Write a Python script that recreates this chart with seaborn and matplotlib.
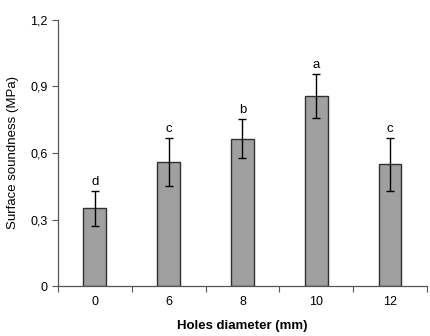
import matplotlib
matplotlib.use("Agg")
import matplotlib.pyplot as plt
import seaborn as sns
import numpy as np
import pandas as pd
from matplotlib.ticker import FixedLocator

categories = ["0", "6", "8", "10", "12"]
means = [0.35, 0.56, 0.665, 0.856, 0.549]
errors = [0.08, 0.107, 0.088, 0.10, 0.12]
letters = ["d", "c", "b", "a", "c"]
yticks = [0, 0.3, 0.6, 0.9, 1.2]
ytick_labels = ["0", "0,3", "0,6", "0,9", "1,2"]

sns.set_style("white")
plt.rcParams['font.family'] = ['Liberation Sans', 'DejaVu Sans']
plt.rcParams['text.color'] = 'black'
plt.rcParams['axes.labelcolor'] = 'black'
plt.rcParams['xtick.labelcolor'] = 'black'
plt.rcParams['ytick.labelcolor'] = 'black'

df = pd.DataFrame({"diam": categories, "val": means})

fig = plt.figure(figsize=(4.31, 3.36), dpi=100)
ax = fig.add_axes([0.1346, 0.1488, 0.856, 0.7917])
sns.barplot(data=df, x="diam", y="val", order=categories, color="#a0a0a0",
            width=0.31, edgecolor="#303030", linewidth=1.0, saturation=1,
            errorbar=None, ax=ax)
xs = np.arange(len(categories))
ax.errorbar(xs, means, yerr=errors, fmt="none", ecolor="black",
            elinewidth=1.0, capsize=3, capthick=1.0)
for x, m, e, l in zip(xs, means, errors, letters):
    ax.text(x, m + e + 0.012, l, ha="center", va="bottom", fontsize=9.5, color="black")

ax.set_xlim(-0.5, len(categories) - 0.5)
ax.set_ylim(0, 1.2)
ax.set_yticks(yticks)
ax.set_yticklabels(ytick_labels)
ax.tick_params(axis="x", which="major", length=0, labelsize=9, pad=7, labelcolor="black")
ax.xaxis.set_minor_locator(FixedLocator(np.arange(-0.5, len(categories), 1.0)))
ax.tick_params(axis="x", which="minor", length=4, width=0.8, color="#555555", direction="out", bottom=True)
ax.tick_params(axis="y", length=4, width=0.8, color="#555555", direction="out", labelsize=9, left=True, labelcolor="black")
for s in ["top", "right"]:
    ax.spines[s].set_visible(False)
for s in ["left", "bottom"]:
    ax.spines[s].set_color("#555555")
    ax.spines[s].set_linewidth(0.9)
ax.set_xlabel("Holes diameter (mm)", fontsize=9.5, fontweight="bold", labelpad=9, color="black")
ax.set_ylabel("Surface soundness (MPa)", fontsize=9.5, labelpad=8, color="black")

fig.savefig("out.png", dpi=100)
